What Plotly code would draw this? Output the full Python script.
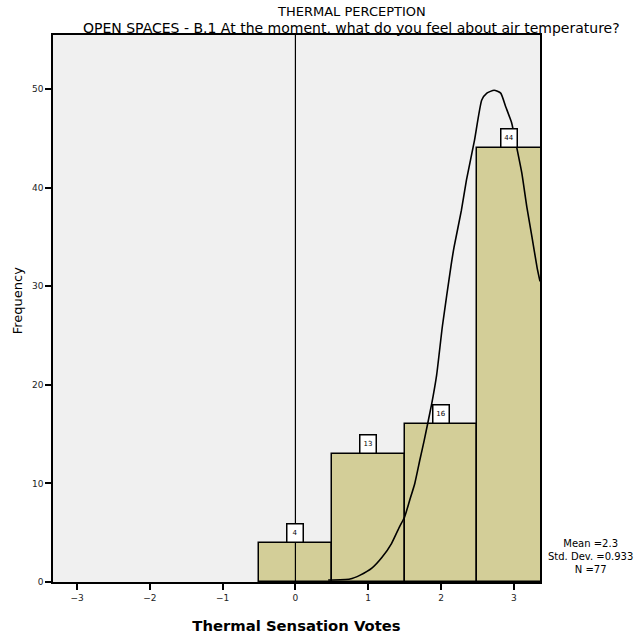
import plotly.graph_objects as go

# Data
votes = [0, 1, 2, 3]
counts = [4, 13, 16, 44]
curve_x = [0.45, 0.75, 0.89, 1.05, 1.19, 1.32, 1.43, 1.50, 1.57, 1.64, 1.71, 1.77, 1.87,
           1.94, 2.02, 2.14, 2.18, 2.28, 2.35, 2.46, 2.56, 2.63, 2.73, 2.82, 2.89, 2.97,
           3.04, 3.11, 3.18, 3.25, 3.32, 3.36]
curve_y = [0.2, 0.3, 0.7, 1.4, 2.5, 3.9, 5.6, 6.6, 8.3, 10.0, 12.4, 14.4, 18.0,
           21.0, 26.0, 32.2, 34.0, 37.7, 40.8, 44.8, 48.9, 49.6, 49.9, 49.6, 48.2, 46.6,
           44.1, 41.5, 38.0, 35.0, 31.9, 30.5]
x_ticks = [-3, -2, -1, 0, 1, 2, 3]
y_ticks = [0, 10, 20, 30, 40, 50]
stats_lines = ["Mean =2.3", "Std. Dev. =0.933", "N =77"]
title = "THERMAL PERCEPTION"
subtitle = "OPEN SPACES - B.1 At the moment, what do you feel about air temperature?"

X_MIN, X_MAX = -3.33, 3.36
Y_MAX = 55.5
FONT = "DejaVu Sans"
PLOT_TOP, PLOT_BOTTOM = 35, 582


def page_y(py):
    # convert a page pixel row into paper coordinates
    return (PLOT_BOTTOM - py) / (PLOT_BOTTOM - PLOT_TOP)


fig = go.Figure()
fig.add_trace(go.Bar(
    x=votes, y=counts, width=1,
    marker=dict(color="#d3ce98", line=dict(color="black", width=1.5)),
    showlegend=False, hoverinfo="skip",
))
fig.add_trace(go.Scatter(
    x=curve_x, y=curve_y, mode="lines",
    line=dict(color="black", width=1.6, shape="spline", smoothing=0.5),
    showlegend=False, hoverinfo="skip",
))

fig.add_shape(type="line", x0=0, x1=0, y0=0, y1=1, xref="x", yref="paper",
              line=dict(color="black", width=1.2), layer="above")

# count labels above bars
for v, c in zip(votes, counts):
    lo, hi = max(v - 0.5, X_MIN), min(v + 0.5, X_MAX)
    fig.add_annotation(x=(lo + hi) / 2, y=c, xref="x", yref="y", text=str(c),
                       showarrow=False, yanchor="bottom", xanchor="center",
                       font=dict(family=FONT, size=7, color="black"),
                       bgcolor="white", bordercolor="black", borderwidth=1.5,
                       borderpad=2, width=11, height=13)

fig.add_annotation(x=0.612, y=page_y(11.5), xref="paper", yref="paper", text=title,
                   showarrow=False, xanchor="center", yanchor="middle",
                   font=dict(family=FONT, size=13, color="black"))
fig.add_annotation(x=0.612, y=page_y(27.5), xref="paper", yref="paper", text=subtitle,
                   showarrow=False, xanchor="center", yanchor="middle",
                   font=dict(family=FONT, size=14, color="black"))
fig.add_annotation(x=1.103, y=0.046, xref="paper", yref="paper",
                   text="<br>".join(stats_lines), showarrow=False,
                   xanchor="center", yanchor="middle", align="center",
                   font=dict(family=FONT, size=10, color="black"))
fig.add_annotation(x=-0.074, y=0.515, xref="paper", yref="paper", text="Frequency",
                   showarrow=False, xanchor="center", yanchor="middle", textangle=-90,
                   font=dict(family=FONT, size=13, color="black"))

fig.update_layout(
    width=644, height=638,
    margin=dict(l=53, r=104, t=PLOT_TOP, b=638 - PLOT_BOTTOM, pad=0, autoexpand=False),
    paper_bgcolor="white", plot_bgcolor="#f0f0f0",
    bargap=0,
    font=dict(family=FONT, color="black"),
    xaxis=dict(range=[X_MIN, X_MAX], tickvals=x_ticks, showgrid=False, zeroline=False,
               automargin=False,
               showline=True, mirror=True, linecolor="black", linewidth=1.5,
               ticks="outside", ticklen=6, tickwidth=1.5, tickcolor="black",
               tickfont=dict(family=FONT, size=9, color="#222"),
               title=dict(text="<b>Thermal Sensation Votes</b>", standoff=19,
                          font=dict(family=FONT, size=14.8, color="black"))),
    yaxis=dict(range=[0, Y_MAX], tickvals=y_ticks, showgrid=False, zeroline=False,
               automargin=False,
               showline=True, mirror=True, linecolor="black", linewidth=1.5,
               ticks="outside", ticklen=6, tickwidth=1.5, tickcolor="black",
               tickfont=dict(family=FONT, size=9, color="#222")),
)

fig.write_html("out.html", config={"displayModeBar": False},
               post_script="document.body.style.margin='0px';document.body.style.overflow='hidden';")
